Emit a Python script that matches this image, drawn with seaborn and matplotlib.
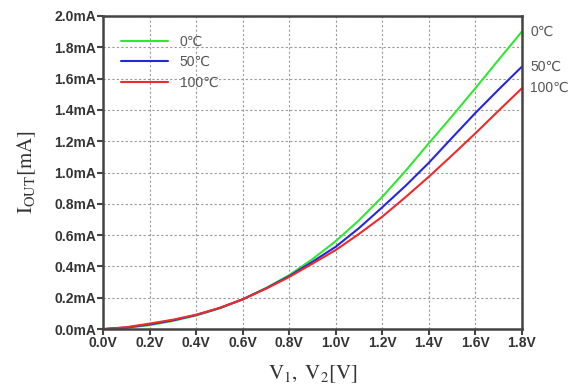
import numpy as np
import pandas as pd
import matplotlib
matplotlib.use("Agg")
import matplotlib.pyplot as plt
import seaborn as sns

sns.set_theme(style="white")
plt.rcParams['font.family'] = ['Liberation Sans', 'DejaVu Sans']
plt.rcParams['mathtext.fontset'] = 'stix'

# sweep voltage (V) and output current (mA)
volts = [0.0, 0.1, 0.2, 0.3, 0.4, 0.5, 0.6, 0.7, 0.8, 0.9,
         1.0, 1.1, 1.2, 1.3, 1.4, 1.5, 1.6, 1.7, 1.8]
i_0c = [0.0, 0.008, 0.025, 0.052, 0.087, 0.132, 0.19, 0.262, 0.345, 0.447,
        0.562, 0.695, 0.845, 1.01, 1.187, 1.36, 1.538, 1.72, 1.9]
i_50c = [0.0, 0.01, 0.03, 0.056, 0.09, 0.134, 0.19, 0.26, 0.338, 0.43,
         0.526, 0.645, 0.778, 0.915, 1.062, 1.222, 1.38, 1.53, 1.676]
i_100c = [0.0, 0.012, 0.035, 0.06, 0.092, 0.135, 0.19, 0.258, 0.333, 0.418,
          0.505, 0.608, 0.718, 0.843, 0.973, 1.11, 1.25, 1.395, 1.538]
temps = ['0\u2103', '50\u2103', '100\u2103']
colors = ['#33e633', '#2626e0', '#ee2a2a']

df = pd.concat([
    pd.DataFrame({'V': volts, 'I': vals, 'T': t})
    for t, vals in zip(temps, [i_0c, i_50c, i_100c])
])

fig = plt.figure(figsize=(5.76, 3.89), dpi=100)
ax = fig.add_axes([0.179, 0.154, 0.727, 0.805])

sns.lineplot(data=df, x='V', y='I', hue='T', palette=colors, ax=ax, linewidth=1.5)

ax.set_xlim(0, 1.8)
ax.set_ylim(0, 2.0)
xt = np.round(np.arange(0, 1.81, 0.2), 1)
yt = np.round(np.arange(0, 2.01, 0.2), 1)
ax.set_xticks(xt)
ax.set_yticks(yt)
ax.set_xticklabels([f"{v:.1f}V" for v in xt])
ax.set_yticklabels([f"{v:.1f}mA" for v in yt])
ax.tick_params(direction='out', length=4, width=1.5, color='#444444',
               labelsize=10, labelcolor='#333333', pad=1, left=True, bottom=True)
for lab in ax.get_xticklabels() + ax.get_yticklabels():
    lab.set_fontweight('bold')

ax.grid(True, color='#999999', linestyle=(0, (2, 2)), linewidth=0.8)
for side in ['left', 'bottom', 'top', 'right']:
    ax.spines[side].set_color('#444444')
    ax.spines[side].set_linewidth(1.8)

ax.set_xlabel(r'$\mathrm{V_1,\ V_2[V]}$', fontsize=15, color='#333333', labelpad=10)
ax.set_ylabel(r'$\mathrm{I_{OUT}[mA]}$', fontsize=15, color='#333333', labelpad=12)

leg = ax.legend(loc='upper left', bbox_to_anchor=(0.02, 0.97), frameon=False,
                handlelength=3.4, labelspacing=0.45, fontsize=10, borderpad=0.2)
for txt in leg.get_texts():
    txt.set_color('#555555')

# temperature tags at curve ends
for t, vals in zip(temps, [i_0c, i_50c, i_100c]):
    ax.annotate(t, xy=(volts[-1], vals[-1]), xytext=(6, 0),
                textcoords='offset points', va='center', ha='left',
                fontsize=10, color='#555555', annotation_clip=False)

fig.savefig('out.png', dpi=100)
